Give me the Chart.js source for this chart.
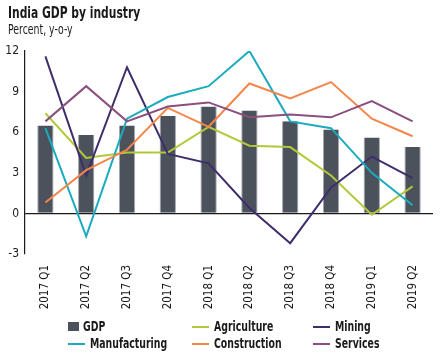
<!DOCTYPE html>
<html>
<head>
<meta charset="utf-8">
<script src="https://cdn.jsdelivr.net/npm/chart.js@4"></script>
<style>
  html, body { margin:0; padding:0; background:#fff; }
  #wrap { position:relative; width:440px; height:360px; overflow:hidden;
          font-family:"Liberation Sans Narrow","DejaVu Sans Condensed",sans-serif; color:#1a1a1a; }
  .sx { transform:scaleX(0.77); transform-origin:0 50%; }
  #title { position:absolute; left:8px; top:4px; font-size:15.5px; font-weight:bold; white-space:nowrap; }
  #subtitle { position:absolute; left:8px; top:21px; font-size:13.5px; white-space:nowrap; }
  canvas { position:absolute; left:0; top:0; }
  .lg { position:absolute; font-size:13.5px; font-weight:bold; white-space:nowrap; line-height:16px; }
  .sw { position:absolute; }
</style>
</head>
<body>
<div id="wrap">
  <canvas id="c" width="440" height="360"></canvas>
  <div id="title" class="sx">India GDP by industry</div>
  <div id="subtitle" class="sx">Percent, y-o-y</div>
  <div id="legend"></div>
</div>
<script>
const categories = ["2017 Q1","2017 Q2","2017 Q3","2017 Q4","2018 Q1","2018 Q2","2018 Q3","2018 Q4","2019 Q1","2019 Q2"];
const yTicks = [-3, 0, 3, 6, 9, 12];
const gdp           = [6.5, 5.8, 6.5, 7.2, 7.9, 7.6, 6.8, 6.2, 5.6, 4.9];
const agriculture   = [7.4, 4.1, 4.5, 4.5, 6.4, 5.0, 4.9, 2.8, -0.1, 2.0];
const mining        = [11.6, 2.8, 10.8, 4.4, 3.7, 0.4, -2.2, 1.9, 4.2, 2.6];
const manufacturing = [6.3, -1.7, 7.0, 8.6, 9.4, 12.0, 6.8, 6.3, 3.0, 0.6];
const construction  = [0.8, 3.2, 4.7, 7.8, 6.4, 9.6, 8.5, 9.7, 7.0, 5.7];
const services      = [6.8, 9.4, 6.8, 7.9, 8.2, 7.1, 7.3, 7.1, 8.3, 6.8];

const FONT = '"Liberation Sans Narrow","DejaVu Sans Condensed",sans-serif';
const line = (label, data, color, order) => ({
  type:'line', label, data, borderColor:color, backgroundColor:color,
  borderWidth:2, pointRadius:0, tension:0, order, fill:false
});

const chart = new Chart(document.getElementById('c'), {
  data: {
    labels: categories,
    datasets: [
      { type:'bar', label:'GDP', data:gdp, backgroundColor:'#4b525c',
        borderColor:'#a3a8ae', borderWidth:{left:1,right:1,top:0,bottom:0}, borderSkipped:false,
        barPercentage:0.4, categoryPercentage:1.0, order:10 },
      line('Agriculture', agriculture, '#b3c839', 5),
      line('Mining', mining, '#3f2d6b', 4),
      line('Manufacturing', manufacturing, '#1aabbf', 3),
      line('Construction', construction, '#f58549', 2),
      line('Services', services, '#8b4f7d', 1)
    ]
  },
  options: {
    responsive:false, animation:false,
    layout:{ padding:{ left:0, right:7, top:51, bottom:44 } },
    plugins:{ legend:{display:false}, title:{display:false}, tooltip:{enabled:false} },
    scales:{
      x:{
        grid:{display:false, drawTicks:false}, border:{display:false},
        ticks:{ color:'#1a1a1a', font:{family:FONT, size:11.5}, minRotation:90, maxRotation:90, padding:11, autoSkip:false },
        afterFit:(a)=>{ a.height = 62; }
      },
      y:{
        min:-3, max:12,
        afterBuildTicks:(a)=>{ a.ticks = yTicks.map(v=>({value:v})); },
        grid:{ drawTicks:false, color:(ctx)=> ctx.tick && ctx.tick.value===0 ? '#1a1a1a' : 'rgba(0,0,0,0)', lineWidth:1.2 },
        border:{ display:true, color:'#1a1a1a', width:1.2 },
        ticks:{ color:'#1a1a1a', font:{family:FONT, size:12}, padding:6 },
        afterFit:(a)=>{ a.width = 25; }
      }
    }
  }
});

// HTML legend built from the chart's datasets
const pos = {
  'GDP':[68,320], 'Agriculture':[192,320], 'Mining':[313,320],
  'Manufacturing':[68,337], 'Construction':[192,337], 'Services':[313,337]
};
const lg = document.getElementById('legend');
chart.data.datasets.forEach(ds => {
  const [x,y] = pos[ds.label];
  const sw = document.createElement('div');
  sw.className = 'sw';
  let tx;
  if (ds.type === 'bar') {
    Object.assign(sw.style, {left:x+'px', top:(y+2)+'px', width:'11px', height:'9px', background:ds.backgroundColor});
    tx = x + 15;
  } else {
    Object.assign(sw.style, {left:x+'px', top:(y+6)+'px', width:'17px', height:'2px', background:ds.borderColor});
    tx = x + 22;
  }
  const t = document.createElement('div');
  t.className = 'lg sx';
  t.textContent = ds.label;
  t.style.left = tx + 'px'; t.style.top = (y-2) + 'px';
  lg.appendChild(sw); lg.appendChild(t);
});
</script>
</body>
</html>
